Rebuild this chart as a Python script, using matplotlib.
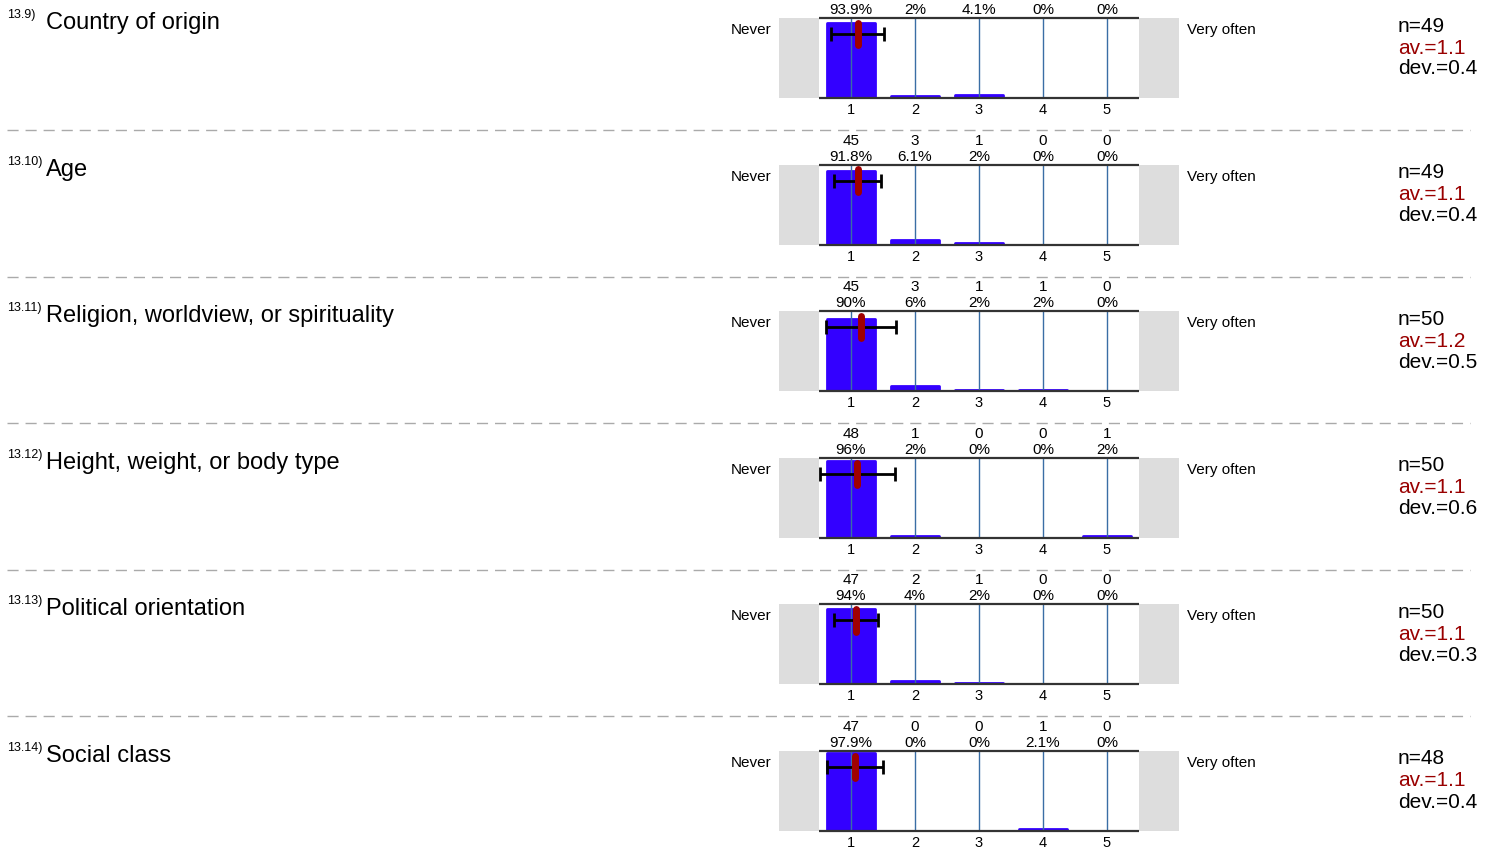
import matplotlib
matplotlib.use("Agg")
import matplotlib.pyplot as plt
import numpy as np

plt.rcParams['font.family'] = ['Liberation Sans', 'DejaVu Sans']

numbers = ["13.9)", "13.10)", "13.11)", "13.12)", "13.13)", "13.14)"]
questions = ["Country of origin", "Age", "Religion, worldview, or spirituality",
             "Height, weight, or body type", "Political orientation", "Social class"]
counts = [
    [46, 1, 2, 0, 0],
    [45, 3, 1, 0, 0],
    [45, 3, 1, 1, 0],
    [48, 1, 0, 0, 1],
    [47, 2, 1, 0, 0],
    [47, 0, 0, 1, 0],
]
scale = [1, 2, 3, 4, 5]
left_label = "Never"
right_label = "Very often"

W, H = 1496, 849
BLUE = '#3300ff'
RED = '#a00000'
GRID = '#3a6ea5'

fig = plt.figure(figsize=(W / 100, H / 100), dpi=100)


def fx(x):
    return x / W


def fy(y):
    return 1 - y / H


def fmt_pct(v):
    s = f"{v:.1f}"
    if s.endswith(".0"):
        s = s[:-2]
    return s + "%"


top0 = 18
pitch = 146.6

for i, (num, q, c) in enumerate(zip(numbers, questions, counts)):
    T = top0 + i * pitch
    c = np.array(c)
    n = c.sum()
    vals = np.repeat(scale, c)
    mean = vals.mean()
    dev = vals.std(ddof=1)
    pct = c / n * 100

    ax = fig.add_axes([fx(779), fy(T + 80), fx(400), 80 / H])
    ax.set_xlim(-0.125, 6.125)
    ax.set_ylim(0, 100)
    ax.axis('off')

    # grey end boxes
    ax.axvspan(-0.125, 0.5, color='#dddddd', lw=0)
    ax.axvspan(5.5, 6.125, color='#dddddd', lw=0)

    # bars with rounded corners (empty categories get no bar)
    cols = [BLUE if k > 0 else 'none' for k in c]
    ax.bar(scale, pct, width=0.75, color=cols, edgecolor=cols, linewidth=2,
           joinstyle='round', zorder=2)

    # vertical guide lines
    ax.vlines(scale, 0, 100, color=GRID, lw=1, zorder=3)

    # top / bottom rules
    ax.hlines([0, 100], 0.5, 5.5, color='#333333', lw=1.6, zorder=4, clip_on=False)

    # error bar and mean
    ax.errorbar(mean, 80, xerr=dev, fmt='none', ecolor='black', elinewidth=2,
                capsize=5, capthick=2, zorder=5)
    ax.plot([mean, mean], [66, 94], color=RED, lw=5, solid_capstyle='round', zorder=6)

    for x, cnt, p in zip(scale, c, pct):
        ax.text(x, -15, str(x), ha='center', va='center', fontsize=10.5, clip_on=False)
        ax.text(x, 110, fmt_pct(p), ha='center', va='center', fontsize=11, clip_on=False)
        if i > 0:
            ax.text(x, 130, str(cnt), ha='center', va='center', fontsize=11, clip_on=False)

    fig.text(fx(7), fy(T - 3), num, fontsize=9, ha='left', va='center')
    fig.text(fx(46), fy(T + 5), q, fontsize=17, ha='left', va='center')
    fig.text(fx(771), fy(T + 12), left_label, fontsize=11, ha='right', va='center')
    fig.text(fx(1187), fy(T + 12), right_label, fontsize=11, ha='left', va='center')
    fig.text(fx(1398), fy(T + 8), f"n={n}", fontsize=15, ha='left', va='center')
    fig.text(fx(1398), fy(T + 30), f"av.={mean:.1f}", fontsize=15, ha='left',
             va='center', color='#990000')
    fig.text(fx(1398), fy(T + 51), f"dev.={dev:.1f}", fontsize=15, ha='left', va='center')

    if i < len(questions) - 1:
        yline = fy(T + 112)
        fig.add_artist(plt.Line2D([fx(7), fx(1470)], [yline, yline], color='#aaaaaa',
                                  lw=1, linestyle=(0, (8, 5))))

fig.savefig("out.png", dpi=100)
